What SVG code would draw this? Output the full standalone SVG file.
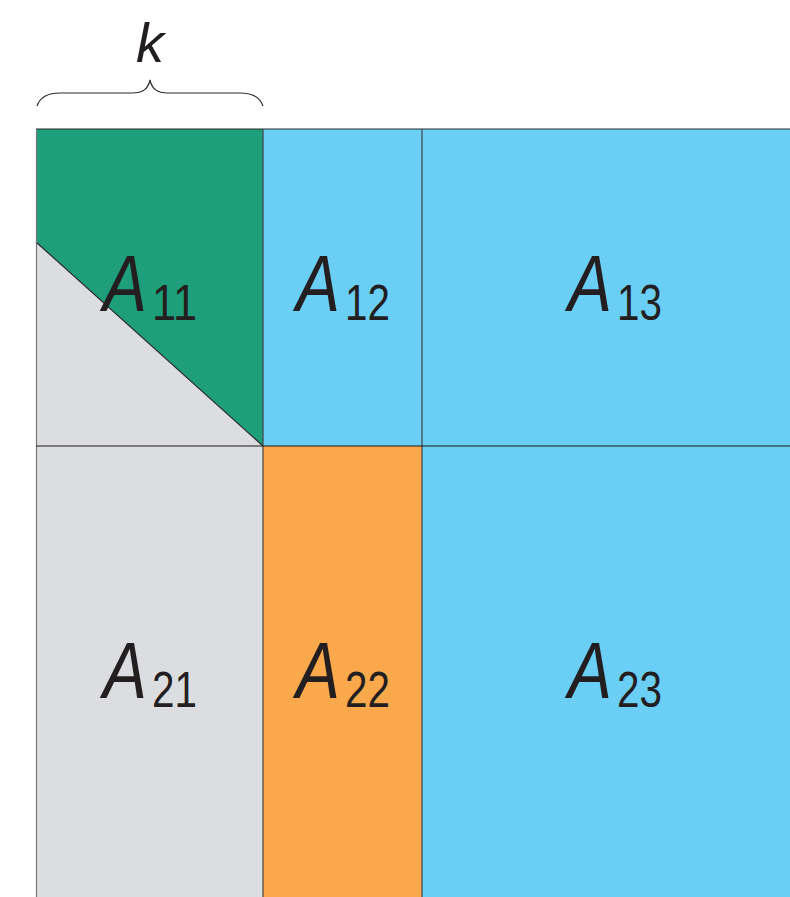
<svg xmlns="http://www.w3.org/2000/svg" width="790" height="897" viewBox="0 0 790 897">
<style>
.ln{stroke:#2b2b2b;stroke-width:1.2;fill:none}
.A{font-family:"Liberation Sans",sans-serif;font-style:italic;font-size:80px;fill:#231f20}
.s{font-family:"Liberation Sans",sans-serif;font-size:50px;fill:#231f20}
.k{font-family:"Liberation Sans",sans-serif;font-style:italic;font-size:56px;fill:#231f20}
</style>
<rect width="790" height="897" fill="#ffffff"/>
<g id="brace">
<path class="ln" d="M37,106 C40,97 47,93 60,93 L132,93 C143,93 148,89 150,80 C152,89 157,93 168,93 L240,93 C253,93 260,97 263,106"/>
<text class="k" x="150" y="62" text-anchor="middle">k</text>
</g>
<g id="A11">
<rect x="36" y="129" width="227" height="317" fill="#dcdde0"/>
<polygon points="36,129 263,129 263,446 36,242" fill="#1f9e7c"/>
<line class="ln" x1="36" y1="242" x2="263" y2="446"/>
<text class="A" x="103" y="311" textLength="44" lengthAdjust="spacingAndGlyphs">A</text>
<text class="s" x="152" y="320" textLength="45" lengthAdjust="spacingAndGlyphs">11</text>
</g>
<g id="A12">
<rect x="263" y="129" width="159" height="317" fill="#6bcef5"/>
<text class="A" x="296" y="311" textLength="44" lengthAdjust="spacingAndGlyphs">A</text>
<text class="s" x="345" y="320" textLength="45" lengthAdjust="spacingAndGlyphs">12</text>
</g>
<g id="A13">
<rect x="422" y="129" width="368" height="317" fill="#6bcef5"/>
<text class="A" x="568" y="311" textLength="44" lengthAdjust="spacingAndGlyphs">A</text>
<text class="s" x="617" y="320" textLength="45" lengthAdjust="spacingAndGlyphs">13</text>
</g>
<g id="A21">
<rect x="36" y="446" width="227" height="451" fill="#dcdde0"/>
<text class="A" x="103" y="698" textLength="44" lengthAdjust="spacingAndGlyphs">A</text>
<text class="s" x="152" y="707" textLength="45" lengthAdjust="spacingAndGlyphs">21</text>
</g>
<g id="A22">
<rect x="263" y="446" width="159" height="451" fill="#f9a84c"/>
<text class="A" x="296" y="698" textLength="44" lengthAdjust="spacingAndGlyphs">A</text>
<text class="s" x="345" y="707" textLength="45" lengthAdjust="spacingAndGlyphs">22</text>
</g>
<g id="A23">
<rect x="422" y="446" width="368" height="451" fill="#6bcef5"/>
<text class="A" x="568" y="698" textLength="44" lengthAdjust="spacingAndGlyphs">A</text>
<text class="s" x="617" y="707" textLength="45" lengthAdjust="spacingAndGlyphs">23</text>
</g>
<g id="grid">
<line class="ln" x1="36" y1="129" x2="790" y2="129" stroke="#555"/>
<line class="ln" x1="36.5" y1="129" x2="36.5" y2="897" style="stroke:#777"/>
<line class="ln" x1="263" y1="129" x2="263" y2="897" style="stroke:#444"/>
<line class="ln" x1="422" y1="129" x2="422" y2="897" style="stroke:#444"/>
<line class="ln" x1="36" y1="446" x2="790" y2="446" style="stroke:#1a1a1a"/>
</g>
</svg>
